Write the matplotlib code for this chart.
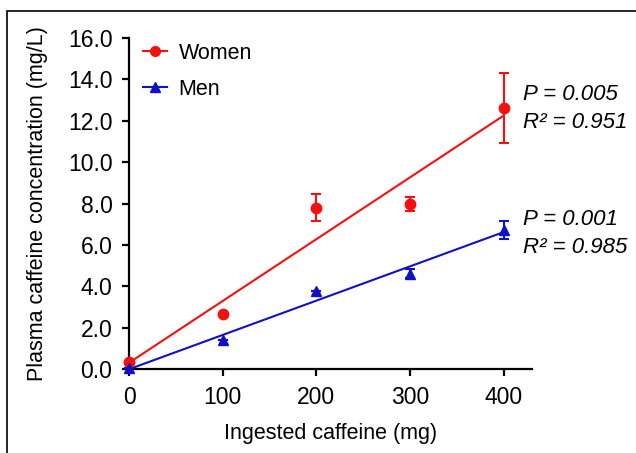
import matplotlib.pyplot as plt
from matplotlib.patches import Rectangle
import numpy as np

plt.rcParams['font.family'] = ['Liberation Sans', 'DejaVu Sans']

dose = [0, 100, 200, 300, 400]
women = [0.35, 2.66, 7.81, 7.97, 12.62]
women_err = [0.0, 0.0, 0.67, 0.35, 1.70]
men = [0.05, 1.40, 3.77, 4.62, 6.72]
men_err = [0.0, 0.0, 0.0, 0.20, 0.42]
yticks = [0, 2, 4, 6, 8, 10, 12, 14, 16]
women_stats = ["P = 0.005", "R² = 0.951"]
men_stats = ["P = 0.001", "R² = 0.985"]

red = '#f51010'
blue = '#1010c4'

fig = plt.figure(figsize=(6.36, 4.53), dpi=100)
ax = fig.add_axes([0.203, 0.185, 0.633, 0.731])

# frame around the whole figure
fig.patches.append(Rectangle((7 / 636, -0.1), 1.2, 0.1 + 1 - 11 / 453,
                             transform=fig.transFigure, fill=False,
                             edgecolor='black', linewidth=1.2))

x = np.array(dose)
for ys, err, col, mk, lab in [(women, women_err, red, 'o', 'Women'),
                              (men, men_err, blue, '^', 'Men')]:
    ys = np.array(ys)
    m, b = np.polyfit(x, ys, 1)
    ax.plot([x[0], x[-1]], [b, m * x[-1] + b], color=col, lw=1.5, clip_on=False)
    ax.errorbar(x, ys, yerr=err, fmt=mk, color=col, ms=7.5, capsize=3.5,
                elinewidth=1.5, capthick=1.5, clip_on=False, zorder=5)
    ax.plot([], [], color=col, marker=mk, ms=7, lw=1.5, label=lab)

ax.legend(loc='upper left', frameon=False, fontsize=15.5, handlelength=1.1,
          handletextpad=0.55, borderpad=0, borderaxespad=0,
          bbox_to_anchor=(0.035, 0.985), labelspacing=0.68)

tx = 0.978
ax.text(tx, 0.83, women_stats[0], transform=ax.transAxes, fontsize=16, style='italic', va='center')
ax.text(tx, 0.745, women_stats[1], transform=ax.transAxes, fontsize=16, style='italic', va='center')
ax.text(tx, 0.452, men_stats[0], transform=ax.transAxes, fontsize=16, style='italic', va='center')
ax.text(tx, 0.367, men_stats[1], transform=ax.transAxes, fontsize=16, style='italic', va='center')

ax.set_xlim(0, 430)
ax.set_ylim(0, 16)
ax.set_xticks(dose)
ax.set_yticks(yticks)
ax.set_yticklabels(['%.1f' % v for v in yticks])
ax.spines['top'].set_visible(False)
ax.spines['right'].set_visible(False)
ax.spines['left'].set_linewidth(1.6)
ax.spines['bottom'].set_linewidth(1.6)
ax.tick_params(width=1.6, length=5, labelsize=16.5, pad=7)
ax.tick_params(axis='x', pad=7)
ax.set_xlabel('Ingested caffeine (mg)', fontsize=15.5, labelpad=10)
ax.set_ylabel('Plasma caffeine concentration (mg/L)', fontsize=15.5, labelpad=14)

fig.savefig('out.png', dpi=100)
